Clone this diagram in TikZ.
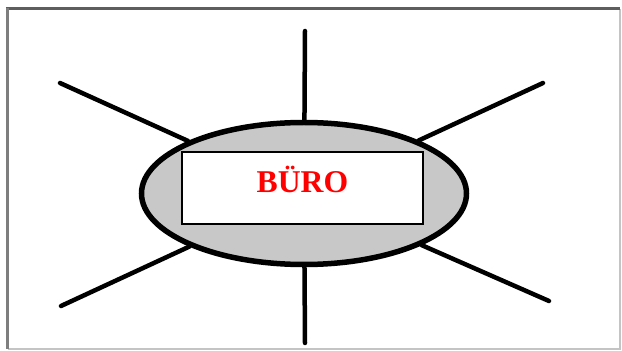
\documentclass[tikz,border=0pt]{standalone}
\usepackage{fontspec}
\setmainfont{Liberation Serif}
\usetikzlibrary{positioning,shapes.geometric}
\definecolor{ink}{HTML}{000000}
\definecolor{disc}{HTML}{C8C8C8}
\definecolor{signred}{HTML}{FF0000}
\definecolor{frameDark}{HTML}{5E5E5E}
\definecolor{frameLight}{HTML}{C4C4C4}

\tikzset{
  spoke/.style={line width=4.5pt,color=ink,line cap=round},
  disc/.style={ellipse,draw=ink,fill=disc,line width=5.5pt,inner sep=0pt,minimum width=325pt,minimum height=142pt},
  signbox/.style={rectangle,draw=ink,fill=white,line width=1.8pt,minimum width=241pt,minimum height=72pt,inner sep=0pt,
    font=\fontsize{31.7}{34}\selectfont\bfseries,text=signred,text height=21pt,text depth=11pt}
}

\begin{document}
\begin{tikzpicture}[x=1pt,y=1pt]
      \useasboundingbox (0,0) rectangle (622,351);

      % window frame
      \draw[line width=1.2pt,color=frameLight] (8,2) -- (620,2) -- (620,342);
      \draw[line width=3pt,color=frameDark] (6,342) -- (620,342);
      \draw[line width=3pt,color=frameDark!80] (7,343) -- (7,2);

      \node[disc] (buero) at (304,157.5) {};
      \node[signbox] (schild) at (302.5,163) {BÜRO};

      \coordinate (n) at (305,320);
      \coordinate (s) at (305,8);
      \coordinate (nw) at (60,268);
      \coordinate (ne) at (543,268);
      \coordinate (sw) at (61,45);
      \coordinate (se) at (549,50);

      \foreach \p in {n,s,nw,ne,sw,se}
        \draw[spoke] (\p) -- (buero);
    \end{tikzpicture}
\end{document}
